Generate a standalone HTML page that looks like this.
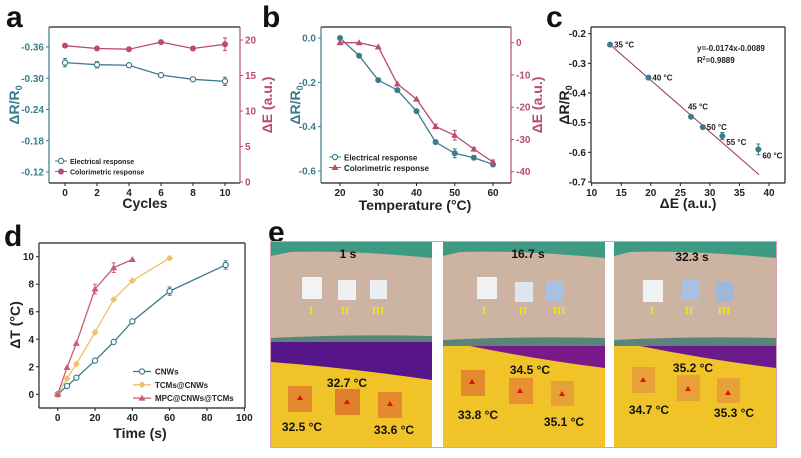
<!DOCTYPE html>
<html><head><meta charset="utf-8"><style>
html,body{margin:0;padding:0;background:#fff;}
svg{display:block;font-family:"Liberation Sans",Arial,sans-serif;}
</style></head><body>
<svg id="fig" width="801" height="458" viewBox="0 0 801 458" xmlns="http://www.w3.org/2000/svg">
<rect width="801" height="458" fill="#fff"/>
<g font-weight="bold" font-size="30" fill="#111">
<text x="6" y="27">a</text>
<text x="262" y="27">b</text>
<text x="546" y="27">c</text>
<text x="4" y="246">d</text>
<text x="268" y="242">e</text>
</g>
<defs>
<clipPath id="c1"><rect x="271" y="242" width="161" height="205"/></clipPath>
<clipPath id="c2"><rect x="443" y="242" width="162" height="205"/></clipPath>
<clipPath id="c3"><rect x="614" y="242" width="162" height="205"/></clipPath>
</defs>
<g id="panel-e">
<rect x="270.5" y="241.5" width="506" height="206" fill="#fff" stroke="#d9a0b4" stroke-width="1"/>
<g clip-path="url(#c1)">
<rect x="271" y="242" width="161" height="205" fill="#f0c428"/>
<rect x="271" y="242" width="161" height="100" fill="#cdb4a2"/>
<path d="M271 242 H432 V258 Q350 250 290 252 L271 256Z" fill="#3f9a84"/>
<path d="M271 338 Q350 334 432 336 V342 H271Z" fill="#5a8478"/>
<path d="M271 342 H432 V380 Q350 368 271 362Z" fill="#56168a"/>
<rect x="302" y="277" width="20" height="22" fill="#f2f4f4"/><rect x="338" y="280" width="18" height="20" fill="#eef0f2"/><rect x="370" y="280" width="17" height="19" fill="#eceff1"/>
<rect x="288" y="386" width="24" height="26" fill="#e4892e"/><rect x="335" y="389" width="25" height="26" fill="#e0802a"/><rect x="378" y="392" width="24" height="26" fill="#e4892e"/>
<path d="M300 395 l-3 5 h6z M347 399 l-3 5 h6z M390 401 l-3 5 h6z" fill="#e01010"/>
</g>
<g clip-path="url(#c2)">
<rect x="443" y="242" width="162" height="205" fill="#f0c428"/>
<rect x="443" y="242" width="162" height="103" fill="#cdb4a2"/>
<path d="M443 242 H605 V258 Q520 250 460 252 L443 256Z" fill="#3f9a84"/>
<path d="M443 340 Q520 336 605 338 V346 H443Z" fill="#5a8478"/>
<path d="M470 346 H605 V368 Q540 360 470 346Z" fill="#7a1a8a"/>
<rect x="477" y="277" width="20" height="22" fill="#eef2f2"/><rect x="515" y="282" width="18" height="20" fill="#dde6ee"/><rect x="546" y="281" width="17" height="20" fill="#a9c0e2"/>
<rect x="461" y="370" width="24" height="26" fill="#e4892e"/><rect x="509" y="378" width="24" height="26" fill="#e69030"/><rect x="551" y="381" width="23" height="25" fill="#e8a038"/>
<path d="M472 379 l-3 5 h6z M520 388 l-3 5 h6z M562 391 l-3 5 h6z" fill="#e01010"/>
</g>
<g clip-path="url(#c3)">
<rect x="614" y="242" width="162" height="205" fill="#f0c428"/>
<rect x="614" y="242" width="162" height="103" fill="#cdb4a2"/>
<path d="M614 242 H776 V258 Q690 250 630 252 L614 256Z" fill="#3f9a84"/>
<path d="M614 340 Q690 336 776 338 V346 H614Z" fill="#5a8478"/>
<path d="M640 346 H776 V368 Q710 360 640 346Z" fill="#6a1a8a"/>
<rect x="643" y="280" width="20" height="22" fill="#eef2f2"/><rect x="682" y="280" width="18" height="20" fill="#a9c0e2"/><rect x="716" y="282" width="17" height="20" fill="#9db8d8"/>
<rect x="632" y="367" width="23" height="26" fill="#e8a038"/><rect x="677" y="375" width="23" height="26" fill="#e8a038"/><rect x="717" y="378" width="23" height="25" fill="#e8a038"/>
<path d="M643 377 l-3 5 h6z M688 386 l-3 5 h6z M728 390 l-3 5 h6z" fill="#e01010"/>
</g>
<g font-weight="bold" font-size="12" fill="#111" text-anchor="middle">
<text x="348" y="258">1 s</text><text x="528" y="258">16.7 s</text><text x="692" y="261">32.3 s</text>
<text x="347" y="387">32.7 °C</text><text x="302" y="431">32.5 °C</text><text x="394" y="434">33.6 °C</text>
<text x="530" y="374">34.5 °C</text><text x="478" y="419">33.8 °C</text><text x="564" y="426">35.1 °C</text>
<text x="693" y="372">35.2 °C</text><text x="649" y="414">34.7 °C</text><text x="734" y="417">35.3 °C</text>
</g>
<g font-family="Liberation Serif,serif" font-weight="bold" font-size="11" fill="#f2e800" text-anchor="middle">
<text x="311" y="314">I</text><text x="345" y="314">II</text><text x="378" y="314">III</text>
<text x="484" y="314">I</text><text x="523" y="314">II</text><text x="559" y="314">III</text>
<text x="652" y="314">I</text><text x="689" y="314">II</text><text x="724" y="314">III</text>
</g>
</g>
<g id="charts"></g>
</svg>
<script>
// Panel a
const aCycles=[0,2,4,6,8,10];
const aElec=[-0.330,-0.326,-0.325,-0.306,-0.298,-0.294];
const aElecErr=[0.008,0.006,0.002,0.002,0.004,0.008];
const aColor=[19.2,18.8,18.7,19.7,18.8,19.4];
const aColorErr=[0.3,0.3,0.4,0.3,0.3,0.9];
const aXTicks=[0,2,4,6,8,10];
const aYTicks=[-0.36,-0.30,-0.24,-0.18,-0.12];
const aYRTicks=[0,5,10,15,20];
// Panel b
const bTemp=[20,25,30,35,40,45,50,55,60];
const bElec=[0,-0.08,-0.19,-0.235,-0.33,-0.47,-0.52,-0.54,-0.57];
const bElecErr=[0,0,0,0.005,0,0,0.02,0.01,0.01];
const bColor=[0,0,-1.3,-12.8,-17.5,-26,-28.7,-33,-37];
const bColorErr=[0,0,0,0,0,0.7,1.5,0.5,0.6];
const bXTicks=[20,30,40,50,60];
const bYTicks=[0,-0.2,-0.4,-0.6];
const bYTickLabels=["0.0","-0.2","-0.4","-0.6"];
const bYRTicks=[0,-10,-20,-30,-40];
// Panel c
const cDE=[13.1,19.6,26.8,28.8,32.1,38.2];
const cDR=[-0.237,-0.348,-0.48,-0.515,-0.545,-0.59];
const cErr=[0,0,0,0,0.012,0.018];
const cLabels=["35 °C","40 °C","45 °C","50 °C","55 °C","60 °C"];
const cSlope=-0.0174, cIntercept=-0.0089, cFitRange=[13,38.3];
const cXTicks=[10,15,20,25,30,35,40];
const cYTicks=[-0.2,-0.3,-0.4,-0.5,-0.6,-0.7];
// Panel d
const dTimeCNW=[0,5,10,20,30,40,60,90];
const dCNW=[0,0.6,1.2,2.45,3.8,5.3,7.5,9.4];
const dTimeTCM=[0,5,10,20,30,40,60];
const dTCM=[0,1.15,2.2,4.5,6.9,8.25,9.9];
const dTimeMPC=[0,5,10,20,30,40];
const dMPC=[0,1.95,3.7,7.65,9.2,9.8];
const dXTicks=[0,20,40,60,80,100];
const dYTicks=[0,2,4,6,8,10];

const NS="http://www.w3.org/2000/svg";
const root=document.getElementById('charts');
function mk(tag,attrs,name,parent){
  const e=document.createElementNS(NS,tag);
  for(const k in attrs)e.setAttribute(k,attrs[k]);
  
  
  (parent||root).appendChild(e);return e;
}
function txt(x,y,s,name,o){const t=mk('text',Object.assign({x:x,y:y},o||{}),name);t.textContent=s;return t;}
function lin(d0,d1,p0,p1){return v=>p0+(v-d0)*(p1-p0)/(d1-d0);}
const TEAL="#3c7c8a",PINK="#b84d6e",YEL="#eec06a",MPC="#cc5a7c";
function frame(l,t,r,b,cl,cr){
  mk('line',{x1:l,y1:t,x2:r,y2:t,stroke:'#222','stroke-width':1.2},'frame-top');
  mk('line',{x1:l,y1:b,x2:r,y2:b,stroke:'#222','stroke-width':1.2},'x-axis');
  mk('line',{x1:l,y1:t,x2:l,y2:b,stroke:cl,'stroke-width':1.2},'y-axis-left');
  mk('line',{x1:r,y1:t,x2:r,y2:b,stroke:cr,'stroke-width':1.2},'y-axis-right');
}
function xticks(arr,sx,b,lab,fill){arr.forEach((v,i)=>{const x=sx(v);
  mk('line',{x1:x,y1:b,x2:x,y2:b+3,stroke:'#222'},'x-tick');
  txt(x,b+13,lab?lab[i]:String(v),'x-tick-label',{'font-size':10,'font-weight':'bold','text-anchor':'middle',fill:fill||'#222'});});}
function yticks(arr,sy,l,side,col,lab){arr.forEach((v,i)=>{const y=sy(v);
  mk('line',{x1:l,y1:y,x2:l+(side<0?-3:3),y2:y,stroke:col},'y-tick');
  txt(l+(side<0?-5:5),y+3.5,lab?lab[i]:String(v),'y-tick-label',{'font-size':10,'font-weight':'bold','text-anchor':side<0?'end':'start',fill:col});});}
function poly(xs,ys,sx,sy,col,name){mk('polyline',{points:xs.map((v,i)=>sx(v)+','+sy(ys[i])).join(' '),fill:'none',stroke:col,'stroke-width':1.3},name);}
function err(x,y1,y2,col){mk('path',{d:`M${x} ${y1}V${y2}M${x-2} ${y1}h4M${x-2} ${y2}h4`,stroke:col,fill:'none'},'error-bar');}
function marker(type,x,y,col,name){
  if(type==='oc')mk('circle',{cx:x,cy:y,r:2.6,fill:'#fff',stroke:col,'stroke-width':1.2},name);
  else if(type==='fc')mk('circle',{cx:x,cy:y,r:3,fill:col},name);
  else if(type==='tri')mk('path',{d:`M${x} ${y-3.5}l3.5 6h-7z`,fill:col},name);
  else if(type==='dia')mk('path',{d:`M${x} ${y-3.5}l3.5 3.5l-3.5 3.5l-3.5 -3.5z`,fill:col},name);
}
function ytitle(x,y,s,col,name){const t=mk('text',{x:0,y:0,transform:`translate(${x},${y}) rotate(-90)`,'font-size':14,'font-weight':'bold','text-anchor':'middle',fill:col},name);t.innerHTML=s;}

// ---- Panel a
{const sx=lin(0,10,65,225),sy=lin(-0.36,-0.12,47,172),sr=lin(0,20,182,40);
frame(49,27,240,183,TEAL,PINK);
xticks(aXTicks,sx,183);
yticks(aYTicks,sy,49,-1,TEAL,aYTicks.map(v=>v.toFixed(2)));
yticks(aYRTicks,sr,240,1,PINK);
poly(aCycles,aElec,sx,sy,TEAL,'electrical-line');
poly(aCycles,aColor,sx,sr,PINK,'colorimetric-line');
aCycles.forEach((c,i)=>{const x=sx(c);
 if(aElecErr[i]>0.003)err(x,sy(aElec[i]-aElecErr[i]),sy(aElec[i]+aElecErr[i]),TEAL);
 marker('oc',x,sy(aElec[i]),TEAL,'electrical-point');
 if(aColorErr[i]>0.5)err(x,sr(aColor[i]-aColorErr[i]),sr(aColor[i]+aColorErr[i]),PINK);
 marker('fc',x,sr(aColor[i]),PINK,'colorimetric-point');});
mk('line',{x1:55,y1:161,x2:67,y2:161,stroke:TEAL},'legend-line');marker('oc',61,161,TEAL,'legend-marker');
txt(70,164,'Electrical response','legend-entry',{'font-size':7,'font-weight':'bold',fill:'#222'});
mk('line',{x1:55,y1:171.5,x2:67,y2:171.5,stroke:PINK},'legend-line');marker('fc',61,171.5,PINK,'legend-marker');
txt(70,174.5,'Colorimetric response','legend-entry',{'font-size':7,'font-weight':'bold',fill:'#222'});
txt(145,208,'Cycles','x-axis-title',{'font-size':14,'font-weight':'bold','text-anchor':'middle',fill:'#222'});
ytitle(19,105,'ΔR/R<tspan font-size="9" dy="3">0</tspan>',TEAL,'y-axis-title-left');
ytitle(272,105,'ΔE (a.u.)',PINK,'y-axis-title-right');}

// ---- Panel b
{const sx=lin(20,60,340,493),sy=lin(0,-0.6,38,171),sr=lin(0,-40,42.7,171.7);
frame(321,27,511,183,TEAL,PINK);
xticks(bXTicks,sx,183);
yticks(bYTicks,sy,321,-1,TEAL,bYTickLabels);
yticks(bYRTicks,sr,511,1,PINK);
poly(bTemp,bElec,sx,sy,TEAL,'electrical-line');
poly(bTemp,bColor,sx,sr,PINK,'colorimetric-line');
bTemp.forEach((c,i)=>{const x=sx(c);
 if(bElecErr[i]>0)err(x,sy(bElec[i]-bElecErr[i]),sy(bElec[i]+bElecErr[i]),TEAL);
 marker('fc',x,sy(bElec[i]),TEAL,'electrical-point');
 if(bColorErr[i]>0)err(x,sr(bColor[i]-bColorErr[i]),sr(bColor[i]+bColorErr[i]),PINK);
 marker('tri',x,sr(bColor[i]),PINK,'colorimetric-point');});
mk('line',{x1:329,y1:157,x2:341,y2:157,stroke:TEAL},'legend-line');marker('oc',335,157,TEAL,'legend-marker');
txt(344,160.5,'Electrical response','legend-entry',{'font-size':8,'font-weight':'bold',fill:'#222'});
mk('line',{x1:329,y1:167.5,x2:341,y2:167.5,stroke:PINK},'legend-line');marker('tri',335,167.5,PINK,'legend-marker');
txt(344,171,'Colorimetric response','legend-entry',{'font-size':8,'font-weight':'bold',fill:'#222'});
txt(415,210,'Temperature (°C)','x-axis-title',{'font-size':14,'font-weight':'bold','text-anchor':'middle',fill:'#222'});
ytitle(300,105,'ΔR/R<tspan font-size="9" dy="3">0</tspan>',TEAL,'y-axis-title-left');
ytitle(542,105,'ΔE (a.u.)',PINK,'y-axis-title-right');}

// ---- Panel c
{const sx=lin(10,40,591.7,769),sy=lin(-0.2,-0.7,33.7,182);
frame(591,27,785,183,'#222','#222');
xticks(cXTicks,sx,183);
yticks(cYTicks,sy,591,-1,'#222',cYTicks.map(v=>v.toFixed(1)));
mk('line',{x1:sx(cFitRange[0]),y1:sy(cSlope*cFitRange[0]+cIntercept),x2:sx(cFitRange[1]),y2:sy(cSlope*cFitRange[1]+cIntercept),stroke:'#9a3350','stroke-width':1},'fit-line');
cDE.forEach((v,i)=>{const x=sx(v),y=sy(cDR[i]);
 if(cErr[i]>0)err(x,sy(cDR[i]-cErr[i]),sy(cDR[i]+cErr[i]),TEAL);
 marker('fc',x,y,TEAL,'data-point');
 txt(x+(i===2?-3:4),y+(i===2?-7:(i>=4?9:3)),cLabels[i],'point-label',{'font-size':8,'font-weight':'bold',fill:'#222'});});
txt(697,51,'y=-0.0174x-0.0089','equation-label',{'font-size':8,'font-weight':'bold',fill:'#222'});
const r=txt(697,63,'','r-squared-label',{'font-size':8,'font-weight':'bold',fill:'#222'});r.innerHTML='R<tspan font-size="5" dy="-3">2</tspan><tspan dy="3">=0.9889</tspan>';
txt(688,208,'ΔE (a.u.)','x-axis-title',{'font-size':14,'font-weight':'bold','text-anchor':'middle',fill:'#222'});
ytitle(569,105,'ΔR/R<tspan font-size="9" dy="3">0</tspan>','#222','y-axis-title');}

// ---- Panel d
{const sx=lin(0,100,57.7,244.3),sy=lin(0,10,394.3,256.7);
frame(39,243,245,408,'#222','#222');
xticks(dXTicks,sx,408);
yticks(dYTicks,sy,39,-1,'#222');
poly(dTimeCNW,dCNW,sx,sy,TEAL,'cnws-line');
poly(dTimeTCM,dTCM,sx,sy,YEL,'tcms-line');
poly(dTimeMPC,dMPC,sx,sy,MPC,'mpc-line');
dTimeCNW.forEach((t,i)=>{if(t>=60)err(sx(t),sy(dCNW[i]-0.3),sy(dCNW[i]+0.3),TEAL);marker('oc',sx(t),sy(dCNW[i]),TEAL,'cnws-point');});
dTimeTCM.forEach((t,i)=>marker('dia',sx(t),sy(dTCM[i]),YEL,'tcms-point'));
dTimeMPC.forEach((t,i)=>{if(t===20||t===30)err(sx(t),sy(dMPC[i]-0.35),sy(dMPC[i]+0.35),MPC);marker('tri',sx(t),sy(dMPC[i]),MPC,'mpc-point');});
[['CNWs',TEAL,'oc'],['TCMs@CNWs',YEL,'dia'],['MPC@CNWs@TCMs',MPC,'tri']].forEach((e,i)=>{const y=371.5+i*13.3;
 mk('line',{x1:133,y1:y,x2:151,y2:y,stroke:e[1],'stroke-width':1.3},'legend-line');marker(e[2],142,y,e[1],'legend-marker');
 txt(155,y+3,e[0],'legend-entry',{'font-size':8,'font-weight':'bold',fill:'#222'});});
txt(140,438,'Time (s)','x-axis-title',{'font-size':14,'font-weight':'bold','text-anchor':'middle',fill:'#222'});
ytitle(20,325,'ΔT (°C)','#222','y-axis-title');}
</script>
</body></html>
